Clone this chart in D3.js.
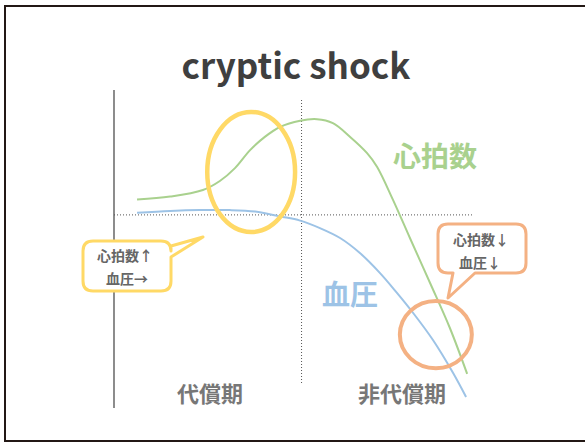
<!DOCTYPE html>
<html>
<head>
<meta charset="utf-8">
<script src="https://cdn.jsdelivr.net/npm/d3@7"></script>
<style>
  html, body { margin: 0; padding: 0; background: #fff; }
  svg { display: block; }
</style>
</head>
<body>
<div id="chart"></div>
<script>
// ---- data (time units 0-100, level units 0-100) ----
const heartRateX = [6.4, 15.6, 24.7, 29.4, 33.6, 37.8, 41.9, 46.1, 51.7, 56.4, 60.8, 65.6, 70.3, 73.1, 77.5, 82.2, 87.8, 93.3, 98.1];
const heartRateY = [66.8, 67.8, 70, 73, 77.3, 83.3, 87.7, 91, 93.1, 93.6, 92.3, 87.7, 82.3, 77.7, 66.7, 54, 39, 24, 8.7];
const bloodPressureX = [6.4, 15.6, 23.9, 32.2, 39.2, 46.1, 51.7, 57.2, 62.8, 68.3, 73.9, 78.6, 83.1, 88.6, 94.2, 97.8];
const bloodPressureY = [62.4, 63, 63.3, 63.3, 62.8, 61.2, 59.8, 57.3, 54, 49, 42.3, 35.7, 29, 20, 9, 1];
const baselineLevel = 61.7;
const phaseBoundary = 52.1;
const phaseLabels = ["代償期", "非代償期"];
const phaseCenters = [26.7, 80];
const seriesLabels = ["心拍数", "血圧"];
const title = "cryptic shock";
// annotation ellipses: [cx, cy, rx, ry] in data units
const compensatedMark = [38.1, 76, 12.2, 20];
const decompensatedMark = [89.4, 21.8, 10, 11.2];
const calloutTexts = [["心拍数↑", "血圧→"], ["心拍数↓", "血圧↓"]];

const W = 585, H = 443;
const svg = d3.select("#chart").append("svg").attr("width", W).attr("height", H);

const x = d3.scaleLinear().domain([0, 100]).range([114, 474]);
const y = d3.scaleLinear().domain([0, 100]).range([400, 100]);

const jp = "'Noto Sans CJK JP', 'Noto Sans', sans-serif";

// frame
svg.append("rect").attr("x", 5).attr("y", 6).attr("width", 700).attr("height", 435)
  .attr("fill", "none").attr("stroke", "#231815").attr("stroke-width", 2);

// title
svg.append("text").attr("x", 296).attr("y", 79).attr("text-anchor", "middle")
  .attr("font-family", jp).attr("font-weight", 700).attr("font-size", 35)
  .attr("fill", "#3f3f3f").text(title);

// vertical axis
svg.append("line").attr("x1", x(0)).attr("x2", x(0)).attr("y1", 90).attr("y2", 408)
  .attr("stroke", "#808080").attr("stroke-width", 1.8);

// baseline dotted
svg.append("line").attr("x1", x(0)).attr("x2", x(100)).attr("y1", y(baselineLevel)).attr("y2", y(baselineLevel))
  .attr("stroke", "#555").attr("stroke-width", 1).attr("stroke-dasharray", "1,2");
// phase boundary dotted
svg.append("line").attr("x1", x(phaseBoundary)).attr("x2", x(phaseBoundary)).attr("y1", 100).attr("y2", 383)
  .attr("stroke", "#555").attr("stroke-width", 1).attr("stroke-dasharray", "1,2");

const line = d3.line().x(d => x(d[0])).y(d => y(d[1])).curve(d3.curveCatmullRom.alpha(0.5));

svg.append("path").datum(d3.zip(heartRateX, heartRateY)).attr("d", line)
  .attr("fill", "none").attr("stroke", "#A9D18E").attr("stroke-width", 2);
svg.append("path").datum(d3.zip(bloodPressureX, bloodPressureY)).attr("d", line)
  .attr("fill", "none").attr("stroke", "#9DC3E6").attr("stroke-width", 2);

// ellipses
function ell(m, color, sw) {
  svg.append("ellipse").attr("cx", x(m[0])).attr("cy", y(m[1]))
    .attr("rx", x(m[2]) - x(0)).attr("ry", y(0) - y(m[3]))
    .attr("fill", "none").attr("stroke", color).attr("stroke-width", sw);
}
ell(compensatedMark, "#FFD966", 4.5);
ell(decompensatedMark, "#F4B183", 4);

// callouts
function roundedBoxWithTail(bx, by, bw, bh, r, tail, side) {
  const p = d3.path();
  const x0 = bx, y0 = by, x1 = bx + bw, y1 = by + bh;
  p.moveTo(x0 + r, y0);
  p.lineTo(x1 - r, y0);
  p.quadraticCurveTo(x1, y0, x1, y0 + r);
  if (side === "right") {
    p.lineTo(x1, tail[0][1]);
    p.lineTo(tail[1][0], tail[1][1]);
    p.lineTo(x1, tail[2][1]);
  }
  p.lineTo(x1, y1 - r);
  p.quadraticCurveTo(x1, y1, x1 - r, y1);
  if (side === "bottom") {
    p.lineTo(tail[2][0], y1);
    p.lineTo(tail[1][0], tail[1][1]);
    p.lineTo(tail[0][0], y1);
  }
  p.lineTo(x0 + r, y1);
  p.quadraticCurveTo(x0, y1, x0, y1 - r);
  p.lineTo(x0, y0 + r);
  p.quadraticCurveTo(x0, y0, x0 + r, y0);
  p.closePath();
  return p.toString();
}

svg.append("path").attr("d", roundedBoxWithTail(83, 241, 88, 50, 10, [[171, 246], [203, 237], [171, 257]], "right"))
  .attr("fill", "#fff").attr("stroke", "#FFD966").attr("stroke-width", 3).attr("stroke-linejoin", "round");
svg.append("path").attr("d", roundedBoxWithTail(438, 224, 88, 49, 10, [[453, 273], [448, 298], [475, 273]], "bottom"))
  .attr("fill", "#fff").attr("stroke", "#F4B183").attr("stroke-width", 3).attr("stroke-linejoin", "round");

const calloutPos = [[[125, 255], [127, 277.5]], [[481, 238.5], [480, 262]]];
calloutTexts.forEach((lines, i) => {
  lines.forEach((t, j) => {
    svg.append("text").attr("x", calloutPos[i][j][0]).attr("y", calloutPos[i][j][1])
      .attr("text-anchor", "middle").attr("dominant-baseline", "central")
      .attr("font-family", jp).attr("font-weight", 700).attr("font-size", 14)
      .attr("fill", "#666").text(t);
  });
});

// series labels
svg.append("text").attr("x", 435).attr("y", 155).attr("text-anchor", "middle").attr("dominant-baseline", "central")
  .attr("font-family", jp).attr("font-weight", 700).attr("font-size", 28).attr("fill", "#A9D18E").text(seriesLabels[0]);
svg.append("text").attr("x", 350).attr("y", 293).attr("text-anchor", "middle").attr("dominant-baseline", "central")
  .attr("font-family", jp).attr("font-weight", 700).attr("font-size", 28).attr("fill", "#9DC3E6").text(seriesLabels[1]);

// phase labels
phaseLabels.forEach((t, i) => {
  svg.append("text").attr("x", x(phaseCenters[i])).attr("y", 391.5).attr("text-anchor", "middle").attr("dominant-baseline", "central")
    .attr("font-family", jp).attr("font-weight", 700).attr("font-size", 22).attr("fill", "#777").text(t);
});
</script>
</body>
</html>
